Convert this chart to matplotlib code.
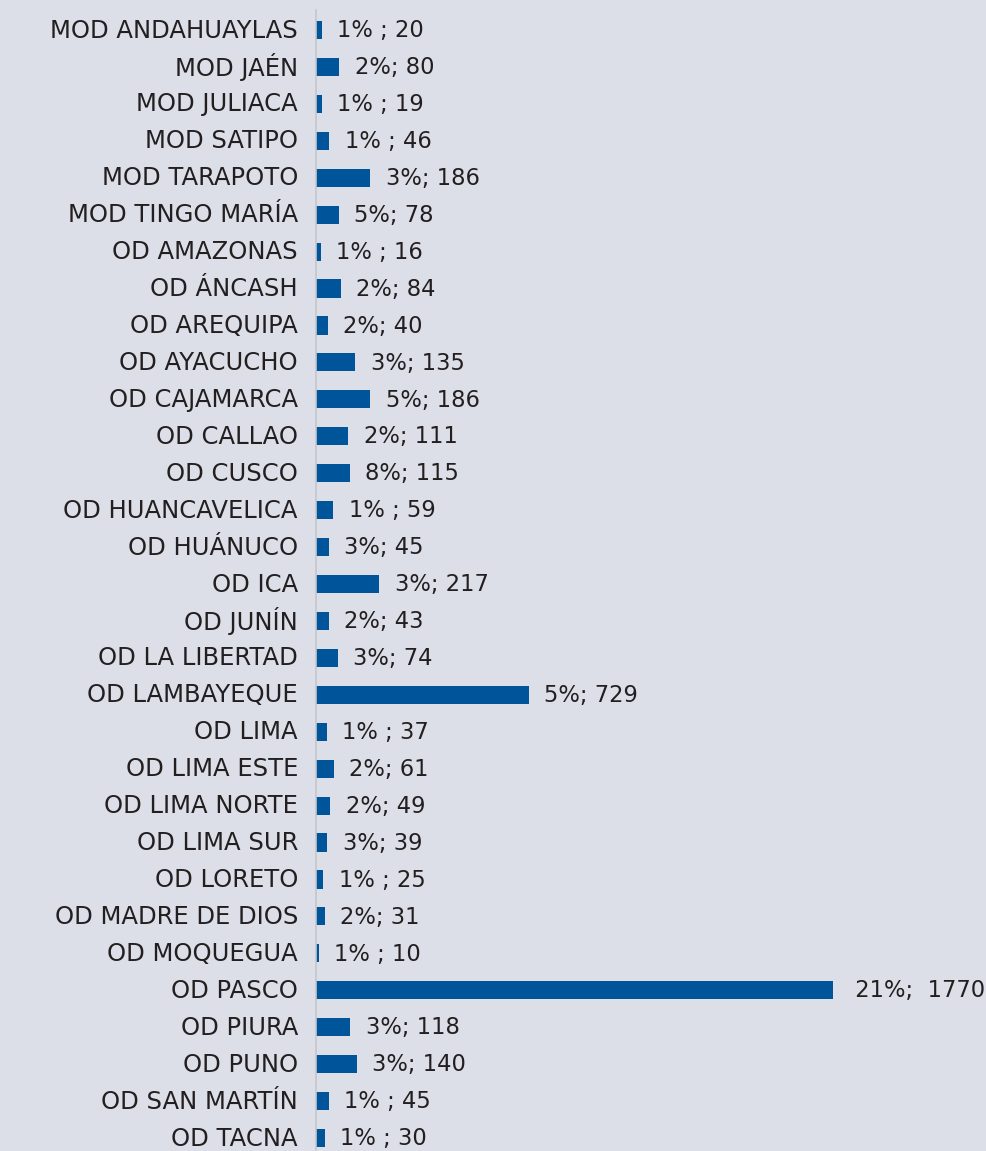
import matplotlib
matplotlib.use("Agg")
import matplotlib.pyplot as plt
import matplotlib.transforms as mtransforms

categories = ["MOD ANDAHUAYLAS", "MOD JAÉN", "MOD JULIACA", "MOD SATIPO", "MOD TARAPOTO",
              "MOD TINGO MARÍA", "OD AMAZONAS", "OD ÁNCASH", "OD AREQUIPA", "OD AYACUCHO",
              "OD CAJAMARCA", "OD CALLAO", "OD CUSCO", "OD HUANCAVELICA", "OD HUÁNUCO",
              "OD ICA", "OD JUNÍN", "OD LA LIBERTAD", "OD LAMBAYEQUE", "OD LIMA",
              "OD LIMA ESTE", "OD LIMA NORTE", "OD LIMA SUR", "OD LORETO", "OD MADRE DE DIOS",
              "OD MOQUEGUA", "OD PASCO", "OD PIURA", "OD PUNO", "OD SAN MARTÍN", "OD TACNA"]
values = [20, 80, 19, 46, 186, 78, 16, 84, 40, 135, 186, 111, 115, 59, 45, 217, 43, 74, 729,
          37, 61, 49, 39, 25, 31, 10, 1770, 118, 140, 45, 30]
labels = ["1% ; 20", "2%; 80", "1% ; 19", "1% ; 46", "3%; 186", "5%; 78", "1% ; 16", "2%; 84",
          "2%; 40", "3%; 135", "5%; 186", "2%; 111", "8%; 115", "1% ; 59", "3%; 45", "3%; 217",
          "2%; 43", "3%; 74", "5%; 729", "1% ; 37", "2%; 61", "2%; 49", "3%; 39", "1% ; 25",
          "2%; 31", "1% ; 10", " 21%;  1770", "3%; 118", "3%; 140", "1% ; 45", "1% ; 30"]

BG = "#dcdfe8"
BAR = "#00559a"
TXT = "#231f20"

W, H = 987, 1151
fig = plt.figure(figsize=(W / 100, H / 100), dpi=100, facecolor=BG)
ax_left, ax_top = 316, 10
ax = fig.add_axes([ax_left / W, 0, (W - ax_left) / W, (H - ax_top) / H])
ax.set_facecolor(BG)

n = len(categories)
pos = list(range(n))
ax.barh(pos, values, height=0.49, color=BAR)

row = (1138 - 30) / (n - 1)
ax.set_ylim((H - 30) / row, -(30 - ax_top) / row)
ax.set_xlim(0, 1770 * (W - ax_left) / (833 - ax_left))

for p, v, lab in zip(pos, values, labels):
    ax.annotate(lab, (v, p), xytext=(11, -0.5), textcoords="offset points",
                va="center", ha="left", fontsize=16.3, color=TXT)

ax.set_yticks(pos)
ax.set_yticklabels(categories, fontsize=17.5, color=TXT)
ax.tick_params(axis="y", length=0, pad=13)
shift = mtransforms.ScaledTranslation(0, 2 / 100, fig.dpi_scale_trans)
for t in ax.get_yticklabels():
    t.set_transform(t.get_transform() + shift)
ax.set_xticks([])
for s in ["top", "right", "bottom"]:
    ax.spines[s].set_visible(False)
ax.spines["left"].set_color("#c4c6cc")
ax.spines["left"].set_linewidth(1.2)

fig.savefig("out.png", dpi=100, facecolor=BG)
